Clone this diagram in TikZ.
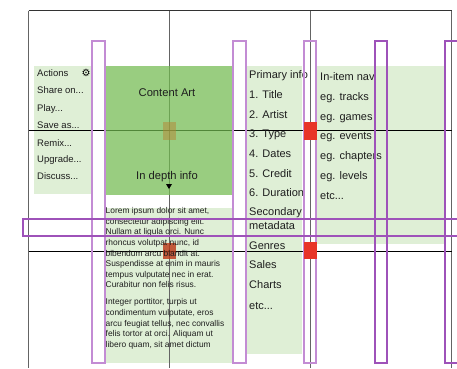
\documentclass[tikz,border=0pt]{standalone}
\usepackage{fontspec}
\setmainfont{Liberation Sans}
\newfontfamily\symfont{DejaVu Sans}
\definecolor{lightgreen}{RGB}{223,239,214}
\definecolor{artgreen}{RGB}{113,186,79}
\definecolor{gridgray}{RGB}{100,100,100}
\definecolor{purpA}{RGB}{195,140,212}
\definecolor{purpB}{RGB}{158,82,185}
\definecolor{redsq}{RGB}{232,52,40}
\definecolor{olivesq}{RGB}{183,131,52}
\definecolor{brownsq}{RGB}{187,53,21}
\definecolor{textc}{RGB}{30,30,30}
\begin{document}
\begin{tikzpicture}[x=1pt,y=-1pt,
  lightbox/.style={fill=lightgreen,draw=none},
  gridv/.style={draw=gridgray,line width=1pt},
  gridh/.style={draw=black,line width=1pt},
  guideA/.style={draw=purpA,line width=1.1pt},
  guideB/.style={draw=purpB,line width=1.05pt},
  lbl/.style={anchor=base west,inner sep=0pt,text=textc,font=\fontsize{11}{13}\selectfont},
  menu/.style={anchor=base west,inner sep=0pt,text=textc,font=\fontsize{9.5}{11}\selectfont},
  title/.style={anchor=base,inner sep=0pt,text=textc,font=\fontsize{11.2}{13}\selectfont}]
\useasboundingbox (0,0) rectangle (457,368);
\clip (0,0) rectangle (457,368);
% light green boxes
\fill[lightbox] (34,66) rectangle (92,194);
\fill[lightbox] (105,208) rectangle (233,363);
\fill[lightbox] (246,66) rectangle (302,354);
\fill[lightbox] (316,66) rectangle (445,244);
% grid
\coordinate (tl) at (28.5,10.5); \coordinate (tr) at (451.5,10.5);
\coordinate (b1) at (28.5,368); \coordinate (b2) at (169.5,368);
\coordinate (b3) at (310.5,368); \coordinate (b4) at (451.5,368);
\coordinate (t2) at (169.5,10.5); \coordinate (t3) at (310.5,10.5);
\draw[gridv] (tl) -- (b1);
\draw[gridv] (t2) -- (b2);
\draw[gridv] (t3) -- (b3);
\draw[gridv] (tr) -- (b4);
\draw[draw=black!80,line width=1pt] (tl) -- (tr);
\coordinate (h1l) at (28.5,130.5); \coordinate (h1r) at (451.5,130.5);
\coordinate (h2l) at (28.5,251.5); \coordinate (h2r) at (451.5,251.5);
\draw[gridh] (h1l) -- (h1r);
\draw[gridh] (h2l) -- (h2r);
% content art
\fill[artgreen,fill opacity=0.72] (105,66) rectangle (233,195);
\fill[olivesq,fill opacity=0.5] (163,122) rectangle (176,140);
\fill[brownsq,fill opacity=0.8] (163,243) rectangle (176,259);
% menu
\node[menu] (m1) at (37,76.5) {Actions};
\node[anchor=center,inner sep=0pt,font=\symfont\fontsize{10}{11}\selectfont] (gear) at (86,73) {⚙};
\node[menu] (m2) at (37,93.5) {Share on...};
\node[menu] (m3) at (37,111.5) {Play...};
\node[menu] (m4) at (37,128.5) {Save as...};
\node[menu] (m5) at (37,146) {Remix...};
\node[menu] (m6) at (37,162.5) {Upgrade...};
\node[menu] (m7) at (37,179.5) {Discuss...};
% content art labels
\node[title] (ca) at (167,96) {Content Art};
\node[title] (idi) at (167,179) {In depth info};
\fill[black] (166,184) -- (172,184) -- (169,189) -- cycle;
% lorem
\node[anchor=north west,inner sep=0pt,text=textc,align=left,
  font=\fontsize{8.4}{10.6}\selectfont] (lorem) at (105.5,207.5)
 {Lorem ipsum dolor sit amet,\\
 consectetur adipiscing elit.\\
 Nullam at ligula orci. Nunc\\
 rhoncus volutpat nunc, id\\
 bibendum arcu blandit at.\\
 Suspendisse at enim in mauris\\
 tempus vulputate nec in erat.\\
 Curabitur non felis risus.\\[6.4pt]
 Integer porttitor, turpis ut\\
 condimentum vulputate, eros\\
 arcu feugiat tellus, nec convallis\\
 felis tortor at orci. Aliquam ut\\
 libero quam, sit amet dictum};
% primary info
\node[lbl] (p1) at (249,78) {Primary info};
\node[lbl] (p2) at (249,98) {1. Title};
\node[lbl] (p3) at (249,118) {2. Artist};
\node[lbl] (p4) at (249,137) {3. Type};
\node[lbl] (p5) at (249,157) {4. Dates};
\node[lbl] (p6) at (249,177) {5. Credit};
\node[lbl] (p7) at (249,196) {6. Duration};
\node[lbl] (p8) at (249,215) {Secondary};
\node[lbl] (p9) at (249,229) {metadata};
\node[lbl] (p10) at (249,249) {Genres};
\node[lbl] (p11) at (249,268) {Sales};
\node[lbl] (p12) at (249,288) {Charts};
\node[lbl] (p13) at (249,309) {etc...};
% in-item nav
\node[lbl] (n1) at (320,80) {In-item nav};
\node[lbl] (n2) at (320,100) {eg. tracks};
\node[lbl] (n3) at (320,120) {eg. games};
\node[lbl] (n4) at (320,139) {eg. events};
\node[lbl] (n5) at (320,159) {eg. chapters};
\node[lbl] (n6) at (320,179) {eg. levels};
\node[lbl] (n7) at (320,199) {etc...};
% purple guides
\draw[guideA] (92,41) rectangle (105,363);
\draw[guideA] (233,41) rectangle (246,363);
\draw[guideA] (304,41) rectangle (316,363);
\draw[guideB] (375,41) rectangle (387,363);
\draw[guideB] (445,41) rectangle (462,363);
\draw[guideB] (23,219) rectangle (462,236);
% red squares
\fill[redsq] (304,122) rectangle (316.5,140);
\fill[redsq] (304,242) rectangle (316.5,259);
\end{tikzpicture}
\end{document}
